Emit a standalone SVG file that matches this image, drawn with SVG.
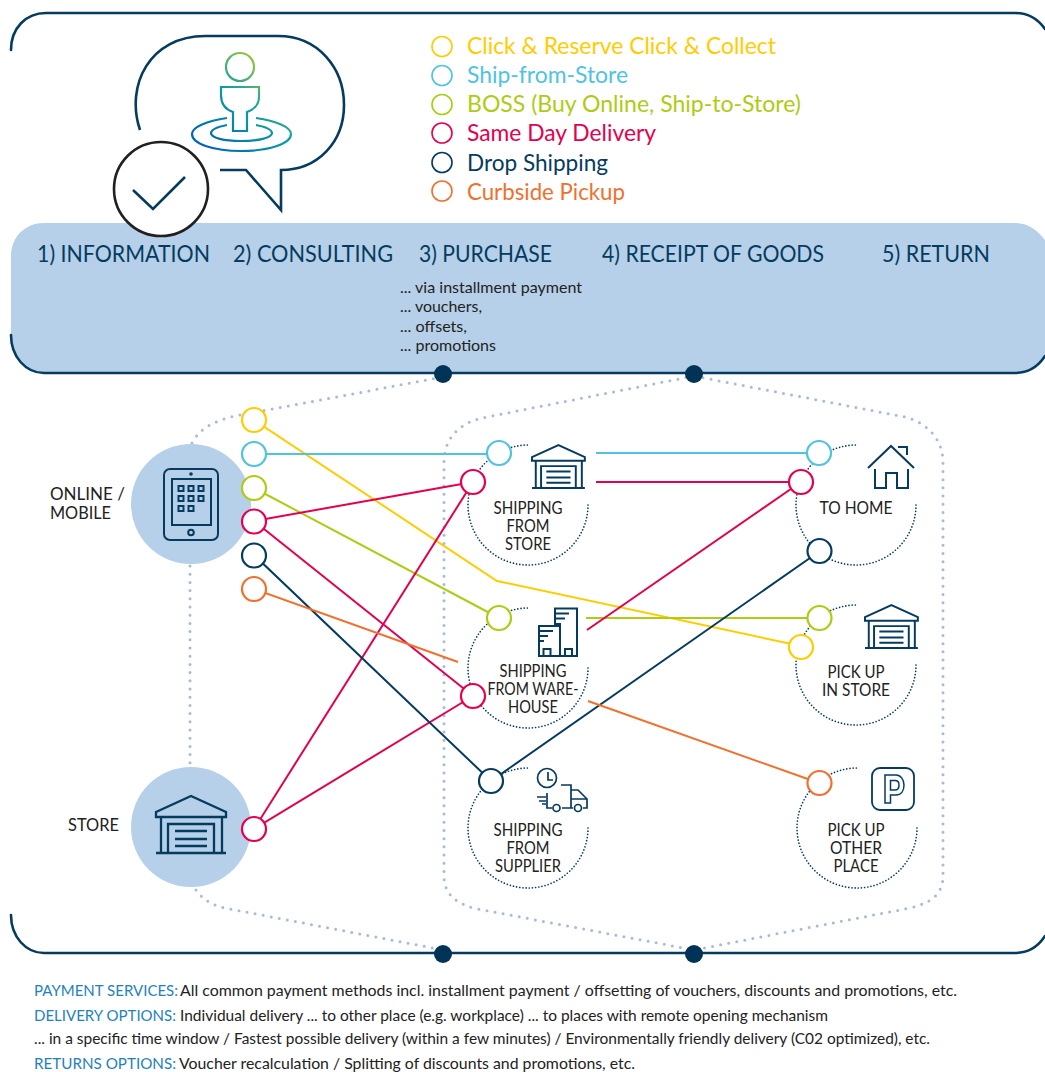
<svg xmlns="http://www.w3.org/2000/svg" width="1045" height="1072" viewBox="0 0 1045 1072">
<style>
text{font-family:"Lato","Liberation Sans",sans-serif;}
.frame{fill:none;stroke:#063B60;stroke-width:2.6;stroke-linecap:round}
.ic{fill:none;stroke:#063B60;stroke-width:2;stroke-linejoin:miter}
.dots{fill:none;stroke:#A7BAD6;stroke-width:3;stroke-linecap:round;stroke-dasharray:0 8.2}
.arc{fill:none;stroke:#063B60;stroke-width:1.7;stroke-linecap:round;stroke-dasharray:0 3.2}
.ln{fill:none;stroke-width:2}
.n{fill:#fff;stroke-width:2.2}
.lg{fill:#fff;stroke-width:1.6}
.lt{font-size:23px}
.hd{font-size:24px;fill:#063B60}
.sm{font-size:15px;fill:#222}
.lb{font-size:17px;fill:#222;text-anchor:middle}
.ft{font-size:16px;fill:#222}
.fb{font-size:16px;fill:#1F82BE}
.y{stroke:#FFCC00}.c{stroke:#4FC3E0}.g{stroke:#AFCB12}.p{stroke:#E5004F}.b{stroke:#063B60}.o{stroke:#F0702E}
.dot{fill:#003356}
</style>
<defs>
<linearGradient id="pg" gradientUnits="userSpaceOnUse" x1="205" y1="140" x2="270" y2="65">
<stop offset="0" stop-color="#0068B0"/><stop offset="0.55" stop-color="#0E9EA6"/><stop offset="1" stop-color="#A8CC30"/>
</linearGradient>
<g id="shop">
<path d="M0,16 L35,0 L70,16 L70,21 L0,21 Z M5,21 V57 M66,21 V57 M-0,57 H70 M12,57 V28 H58 V57 M19,35 H51 M19,43 H51 M19,50 H51"/>
</g>
</defs>

<g id="frames">
<path d="M11,50 C11,28 26,13 46,13 L1015,13 C1028,13 1038,19 1045,29" class="frame"/>
<path d="M11,256 C11,236 26,223 44,223 L1015,223 C1028,223 1038,230 1047,243 L1047,356 C1038,367 1028,373 1015,373 L44,373 C26,373 11,357 11,335 Z" fill="#B5D0E8"/>
<path d="M11,335 C11,357 26,373 44,373 L1015,373 C1028,373 1038,367 1045,356" class="frame"/>
<path d="M11,915 C11,937 26,953 44,953 L1015,953 C1028,953 1038,947 1045,936" class="frame"/>
</g>

<g id="speech-icon">
<path d="M140,130 C125,85 150,36 205,36 L278,36 C318,36 344,68 344,105 C344,142 318,170 281,170 L281,210 L246,170 L220,170" fill="none" stroke="#063B60" stroke-width="2.6"/>
<circle cx="240" cy="67" r="14" fill="none" stroke="url(#pg)" stroke-width="2.2"/>
<path d="M221,87 H259 V97 C259,105 253,110 247,112 V131 H233 V112 C227,110 221,105 221,95 Z" fill="none" stroke="url(#pg)" stroke-width="2.2"/>
<path d="M227,118 C207,121 192,127 192,134 C192,144 214,151 241,151 C268,151 291,144 291,134 C291,127 276,121 256,118" fill="none" stroke="url(#pg)" stroke-width="2.2"/>
<path d="M227,125 C217,127 211,130 211,133 C211,138 224,141 241,141 C258,141 272,138 272,133 C272,130 266,127 256,125" fill="none" stroke="url(#pg)" stroke-width="2.2"/>
<circle cx="161" cy="189" r="47" fill="#fff" stroke="#231F20" stroke-width="2.6"/>
<path d="M133,190 L153,209 L185,177" fill="none" stroke="#063B60" stroke-width="2.6"/>
</g>

<g id="legend">
<circle cx="442" cy="46.500" r="10" class="lg y"/><text x="467" y="54" class="lt" fill="#FFCC00" textLength="309" lengthAdjust="spacingAndGlyphs">Click &amp; Reserve Click &amp; Collect</text>
<circle cx="442" cy="75.500" r="10" class="lg c"/><text x="467" y="83" class="lt" fill="#4FC3E0" textLength="161" lengthAdjust="spacingAndGlyphs">Ship-from-Store</text>
<circle cx="442" cy="104.500" r="10" class="lg g"/><text x="467" y="112" class="lt" fill="#AFCB12" textLength="334" lengthAdjust="spacingAndGlyphs">BOSS (Buy Online, Ship-to-Store)</text>
<circle cx="442" cy="133" r="10" class="lg p"/><text x="467" y="141" class="lt" fill="#E5004F" textLength="189" lengthAdjust="spacingAndGlyphs">Same Day Delivery</text>
<circle cx="442" cy="162.500" r="10" class="lg b"/><text x="467" y="171" class="lt" fill="#063B60" textLength="141" lengthAdjust="spacingAndGlyphs">Drop Shipping</text>
<circle cx="442" cy="191" r="10" class="lg o"/><text x="467" y="200" class="lt" fill="#F0702E" textLength="158" lengthAdjust="spacingAndGlyphs">Curbside Pickup</text>
</g>

<g id="phases">
<text x="37" y="262" class="hd" textLength="173" lengthAdjust="spacingAndGlyphs">1) INFORMATION</text>
<text x="233" y="262" class="hd" textLength="160" lengthAdjust="spacingAndGlyphs">2) CONSULTING</text>
<text x="419" y="262" class="hd" textLength="133" lengthAdjust="spacingAndGlyphs">3) PURCHASE</text>
<text x="602" y="262" class="hd" textLength="222" lengthAdjust="spacingAndGlyphs">4) RECEIPT OF GOODS</text>
<text x="882" y="262" class="hd" textLength="108" lengthAdjust="spacingAndGlyphs">5) RETURN</text>
<text x="400" y="293" class="sm" textLength="182" lengthAdjust="spacingAndGlyphs">... via installment payment</text>
<text x="400" y="312" class="sm" textLength="82" lengthAdjust="spacingAndGlyphs">... vouchers,</text>
<text x="400" y="332" class="sm" textLength="67" lengthAdjust="spacingAndGlyphs">... offsets,</text>
<text x="400" y="351" class="sm" textLength="96" lengthAdjust="spacingAndGlyphs">... promotions</text>
</g>

<g id="dotted-regions">
<path d="M192,443 C200,428 215,420 240,415 L443,377" class="dots"/>
<path d="M190,566 V765" class="dots"/>
<path d="M196,890 C203,900 212,905 225,908 L443,950" class="dots"/>
<path d="M694,376 L482,418 C460,423 444,438 444,462 L444,876 C444,895 458,905 478,909 L694,950 L910,908 C930,903 943,895 943,876 L943,462 C943,438 925,422 905,417 L694,376" class="dots"/>
</g>

<g id="bar-dots">
<circle cx="443" cy="374" r="9" class="dot"/><circle cx="694" cy="374" r="9" class="dot"/>
<circle cx="443" cy="954" r="9" class="dot"/><circle cx="694" cy="954" r="9" class="dot"/>
</g>

<g id="node-online">
<circle cx="191" cy="504" r="60" fill="#B5D0E8"/>
<rect x="164" y="469" width="54" height="71" rx="6" class="ic"/>
<rect x="172" y="479" width="39" height="46" class="ic"/>
<circle cx="191" cy="474" r="1.800" fill="#063B60"/>
<circle cx="191" cy="532.500" r="2.800" class="ic"/>
<path d="M178.500,486 h5 v5 h-5z M188.500,486 h5 v5 h-5z M198.500,486 h5 v5 h-5z M178.500,496 h5 v5 h-5z M188.500,496 h5 v5 h-5z M198.500,496 h5 v5 h-5z M178.500,506 h5 v5 h-5z M188.500,506 h5 v5 h-5z" class="ic"/>
<text x="50" y="500" class="lb" style="text-anchor:start" textLength="75" lengthAdjust="spacingAndGlyphs">ONLINE /</text>
<text x="50" y="519" class="lb" style="text-anchor:start" textLength="61" lengthAdjust="spacingAndGlyphs">MOBILE</text>
</g>

<g id="node-store">
<circle cx="191" cy="827" r="60" fill="#B5D0E8"/>
<use href="#shop" x="156" y="796" class="ic" style="stroke-width:2.300"/>
<text x="68" y="831" class="lb" style="text-anchor:start" textLength="51" lengthAdjust="spacingAndGlyphs">STORE</text>
</g>

<g id="connectors">
<path d="M254,420 L497,581 L801,646" class="ln y"/>
<path d="M254,454 H499 M596,453 H819" class="ln c"/>
<path d="M254,488 L499,618 M586,618 H819" class="ln g"/>
<path d="M254,521 L473,482 M254,521 L473,696 M596,482 H801 M587,630 L801,482 M254,829 L473,482 M254,829 L473,696" class="ln p"/>
<path d="M254,555 L491,781 L820,551" class="ln b"/>
<path d="M254,589 L458,662 M588,701 L819,783" class="ln o"/>
</g>

<g id="source-points">
<circle cx="254" cy="420" r="12" class="n y"/>
<circle cx="254" cy="454" r="12" class="n c"/>
<circle cx="254" cy="488" r="12" class="n g"/>
<circle cx="254" cy="521.500" r="12" class="n p"/>
<circle cx="254" cy="555.500" r="12" class="n b"/>
<circle cx="254" cy="589" r="12" class="n o"/>
<circle cx="254" cy="829" r="12" class="n p"/>
</g>

<g id="node-shipping-store">
<path d="M588,505 A60,60 0 1 1 528,445" class="arc"/>
<circle cx="499" cy="453" r="12" class="n c"/>
<circle cx="473" cy="482" r="12" class="n p"/>
<use href="#shop" transform="translate(532,445) scale(.755)" class="ic" style="stroke-width:2.600"/>
<text x="528" y="514" class="lb" textLength="69" lengthAdjust="spacingAndGlyphs">SHIPPING</text>
<text x="528" y="532" class="lb" textLength="43" lengthAdjust="spacingAndGlyphs">FROM</text>
<text x="528" y="550" class="lb" textLength="46" lengthAdjust="spacingAndGlyphs">STORE</text>
</g>

<g id="node-shipping-warehouse">
<path d="M588,668 A60,60 0 1 1 528,608" class="arc"/>
<circle cx="499" cy="618" r="12" class="n g"/>
<circle cx="473" cy="696" r="12" class="n p"/>
<path d="M555,626 V608.500 H577 V656 H539 V626 H560 V656 M555,613.500 H569 M555,618.500 H565 M555,624 H561 M539,631 H553 M539,636 H548 M539,641 H544 M543.500,656 V649 H550.500 V656 M565,656 V649 H572 V656" class="ic"/>
<text x="533" y="677" class="lb" textLength="67" lengthAdjust="spacingAndGlyphs">SHIPPING</text>
<text x="533" y="695" class="lb" textLength="91" lengthAdjust="spacingAndGlyphs">FROM WARE-</text>
<text x="533" y="713" class="lb" textLength="50" lengthAdjust="spacingAndGlyphs">HOUSE</text>
</g>

<g id="node-shipping-supplier">
<path d="M588,828 A60,60 0 1 1 528,768" class="arc"/>
<circle cx="491" cy="781" r="12" class="n b"/>
<circle cx="547" cy="778" r="9.500" class="ic" style="stroke-width:1.700"/>
<path d="M548,772 V780 H553 M561,785 H571 V808 H562.500 M571,790 H578 L587,799 V808 H583 M571,799 H587 M547,793 V808 H552 M573,808 H562 M537,797 H546 M539,801 H546 M542,804 H546" class="ic" style="stroke-width:1.700"/>
<circle cx="556.500" cy="808" r="3.500" class="ic" style="stroke-width:1.700"/><circle cx="578" cy="808" r="3.500" class="ic" style="stroke-width:1.700"/>
<text x="528" y="836" class="lb" textLength="69" lengthAdjust="spacingAndGlyphs">SHIPPING</text>
<text x="528" y="854" class="lb" textLength="43" lengthAdjust="spacingAndGlyphs">FROM</text>
<text x="528" y="872" class="lb" textLength="66" lengthAdjust="spacingAndGlyphs">SUPPLIER</text>
</g>

<g id="node-to-home">
<path d="M916,505 A60,60 0 1 1 856,445" class="arc"/>
<circle cx="819" cy="453" r="12" class="n c"/>
<circle cx="801" cy="482" r="12" class="n p"/>
<circle cx="819.500" cy="551" r="12" class="n b"/>
<path d="M868,468 L891,446 L914,468 M898,447 H907 V455 M875,469 V488 H886 V473 H897 V488 H908 V469" class="ic"/>
<text x="856" y="514" class="lb" textLength="73" lengthAdjust="spacingAndGlyphs">TO HOME</text>
</g>

<g id="node-pick-up-store">
<path d="M916,665 A60,60 0 1 1 856,605" class="arc"/>
<circle cx="819.500" cy="618" r="12" class="n g"/>
<circle cx="801" cy="647" r="12" class="n y"/>
<use href="#shop" transform="translate(865,605) scale(.755)" class="ic" style="stroke-width:2.600"/>
<text x="856" y="678" class="lb" textLength="57" lengthAdjust="spacingAndGlyphs">PICK UP</text>
<text x="856" y="696" class="lb" textLength="68" lengthAdjust="spacingAndGlyphs">IN STORE</text>
</g>

<g id="node-pick-up-other">
<path d="M917,828 A60,60 0 1 1 857,768" class="arc"/>
<circle cx="819.500" cy="783" r="12" class="n o"/>
<rect x="872" y="768" width="42" height="42" rx="8" class="ic" style="stroke-width:1.800"/>
<path d="M885,775 H896 C901,775 904,780 904,785 C904,791 901,795 896,795 H890.500 V803 H885 Z M890.500,780.500 V790 H895 C897.500,790 899,788 899,785 C899,782.500 897.500,780.500 895,780.500 Z" class="ic" style="stroke-width:1.500"/>
<text x="856" y="836" class="lb" textLength="57" lengthAdjust="spacingAndGlyphs">PICK UP</text>
<text x="856" y="854" class="lb" textLength="52" lengthAdjust="spacingAndGlyphs">OTHER</text>
<text x="856" y="872" class="lb" textLength="45" lengthAdjust="spacingAndGlyphs">PLACE</text>
</g>

<g id="footer">
<text x="34" y="996" class="fb" textLength="144" lengthAdjust="spacingAndGlyphs">PAYMENT SERVICES:</text>
<text x="180" y="996" class="ft" textLength="777" lengthAdjust="spacingAndGlyphs">All common payment methods incl. installment payment / offsetting of vouchers, discounts and promotions, etc.</text>
<text x="34" y="1021" class="fb" textLength="142" lengthAdjust="spacingAndGlyphs">DELIVERY OPTIONS:</text>
<text x="180" y="1021" class="ft" textLength="648" lengthAdjust="spacingAndGlyphs">Individual delivery ... to other place (e.g. workplace) ... to places with remote opening mechanism</text>
<text x="34" y="1044" class="ft" textLength="896" lengthAdjust="spacingAndGlyphs">... in a specific time window / Fastest possible delivery (within a few minutes) / Environmentally friendly delivery (C02 optimized), etc.</text>
<text x="34" y="1069" class="fb" textLength="142" lengthAdjust="spacingAndGlyphs">RETURNS OPTIONS:</text>
<text x="179" y="1069" class="ft" textLength="456" lengthAdjust="spacingAndGlyphs">Voucher recalculation / Splitting of discounts and promotions, etc.</text>
</g>
</svg>
